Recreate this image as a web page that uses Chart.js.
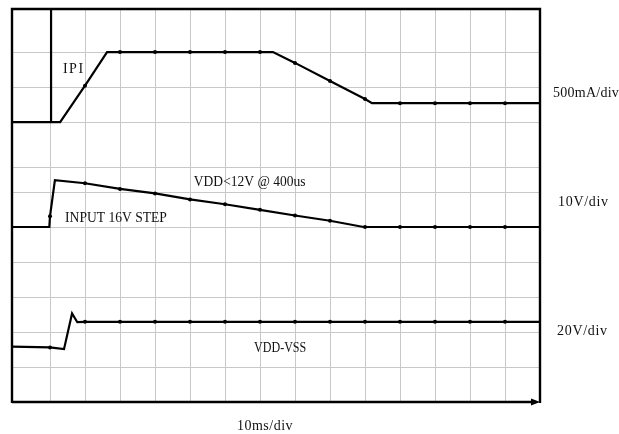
<!DOCTYPE html>
<html>
<head>
<meta charset="utf-8">
<script src="https://cdn.jsdelivr.net/npm/chart.js@4/dist/chart.umd.min.js"></script>
<style>
html,body{margin:0;padding:0;background:#fff;}
#c{display:block;}
</style>
</head>
<body>
<canvas id="c" width="619" height="434"></canvas>
<script>
// Values in screen divisions (x: 10ms/div, y: divisions above bottom edge)
const ipiX = [-1.086, 0.03, 0.03, 0.03, 0.29, 1, 1.63, 2, 3, 4, 5, 6, 6.37, 7, 8, 9, 9.2, 10, 11, 12, 13, 14];
const ipiY = [8, 8, 11.23, 8, 8, 9.04, 10, 10, 10, 10, 10, 10, 10, 9.69, 9.17, 8.66, 8.54, 8.54, 8.54, 8.54, 8.54, 8.54];

const vddX = [-1.086, -0.02, 0, 0.14, 1, 2, 3, 4, 5, 6, 7, 8, 8.96, 9, 10, 11, 12, 13, 14];
const vddY = [5, 5, 5.31, 6.34, 6.25, 6.09, 5.96, 5.79, 5.65, 5.49, 5.33, 5.18, 5, 5, 5, 5, 5, 5, 5];

const vssX = [-1.086, 0, 0.4, 0.63, 0.78, 1, 2, 3, 4, 5, 6, 7, 8, 9, 10, 11, 12, 13, 14];
const vssY = [1.58, 1.56, 1.51, 2.53, 2.28, 2.29, 2.29, 2.29, 2.29, 2.29, 2.29, 2.29, 2.29, 2.29, 2.29, 2.29, 2.29, 2.29, 2.29];

const xGrid = [0, 1, 2, 3, 4, 5, 6, 7, 8, 9, 10, 11, 12, 13];
const yGrid = [1, 2, 3, 4, 5, 6, 6.71, 8, 9, 10];

const xMin = -1.086, xMax = 14, yMin = 0, yMax = 11.23;

const labelsIn = [
  {text: 'IPI', x: 0.37, y: 9.5, ls: 1.5, sx: 1},
  {text: 'VDD<12V @ 400us', x: 4.11, y: 6.27, ls: 0, sx: 0.965},
  {text: 'INPUT 16V STEP', x: 0.43, y: 5.26, ls: 0, sx: 0.97},
  {text: 'VDD-VSS', x: 5.83, y: 1.54, ls: 0, sx: 0.86}
];
const labelsRight = [
  {text: '500mA/div', y: 8.83, dx: 13, ls: 0.25},
  {text: '10V/div', y: 5.71, dx: 18, ls: 0.7},
  {text: '20V/div', y: 2.03, dx: 17, ls: 0.7}
];
const xAxisLabel = '10ms/div';

function pts(xs, ys){ return xs.map((x,i)=>({x:x, y:ys[i]})); }

const dotRadius = ctx => {
  const r = ctx.raw;
  return (r && Math.abs(r.x - Math.round(r.x)) < 1e-6 && r.x > xMin && r.x < xMax) ? 2 : 0;
};

function ds(data){
  return {
    data: data,
    showLine: true,
    borderColor: '#000',
    backgroundColor: '#000',
    borderWidth: 2.2,
    pointRadius: dotRadius,
    pointHoverRadius: dotRadius,
    pointBorderWidth: 0,
    pointBackgroundColor: '#000',
    tension: 0
  };
}

const frame = {
  id: 'frame',
  afterDatasetsDraw(chart){
    const {ctx, chartArea: a, scales} = chart;
    ctx.save();
    ctx.strokeStyle = '#000';
    ctx.lineWidth = 2.4;
    ctx.lineCap = 'butt';
    ctx.beginPath();
    ctx.moveTo(a.left, a.bottom + 1);
    ctx.lineTo(a.left, a.top);
    ctx.lineTo(a.right, a.top);
    ctx.lineTo(a.right, a.bottom + 1);
    ctx.moveTo(a.left, a.bottom);
    ctx.lineTo(a.right - 4, a.bottom);
    ctx.stroke();
    // arrow head
    ctx.fillStyle = '#000';
    ctx.beginPath();
    ctx.moveTo(a.right, a.bottom);
    ctx.lineTo(a.right - 9, a.bottom - 3.5);
    ctx.lineTo(a.right - 9, a.bottom + 3.5);
    ctx.closePath();
    ctx.fill();

    ctx.font = '14px "Liberation Serif", "Times New Roman", serif';
    ctx.fillStyle = '#111';
    ctx.textBaseline = 'middle';
    ctx.textAlign = 'left';
    const xs = scales.x, ys = scales.y;
    labelsIn.forEach(l => {
      ctx.save();
      ctx.letterSpacing = l.ls + 'px';
      ctx.translate(xs.getPixelForValue(l.x), ys.getPixelForValue(l.y));
      ctx.scale(l.sx, 1);
      ctx.fillText(l.text, 0, 0);
      ctx.restore();
    });
    labelsRight.forEach(l => {
      ctx.letterSpacing = l.ls + 'px';
      ctx.fillText(l.text, a.right + l.dx, ys.getPixelForValue(l.y));
    });
    ctx.letterSpacing = '0.5px';
    ctx.fillText(xAxisLabel, xs.getPixelForValue(5.34), a.bottom + 24);
    ctx.restore();
  }
};

new Chart(document.getElementById('c'), {
  type: 'scatter',
  data: {
    datasets: [ds(pts(ipiX, ipiY)), ds(pts(vddX, vddY)), ds(pts(vssX, vssY))]
  },
  options: {
    responsive: false,
    animation: false,
    layout: {padding: {left: 12, right: 79, top: 9, bottom: 32}},
    plugins: {legend: {display: false}, tooltip: {enabled: false}},
    scales: {
      x: {
        type: 'linear', min: xMin, max: xMax,
        afterBuildTicks: s => { s.ticks = xGrid.map(v => ({value: v})); },
        ticks: {display: false},
        grid: {color: '#c8c8c8', lineWidth: 1, drawTicks: false},
        border: {display: false}
      },
      y: {
        type: 'linear', min: yMin, max: yMax,
        afterBuildTicks: s => { s.ticks = yGrid.map(v => ({value: v})); },
        ticks: {display: false},
        grid: {color: '#c8c8c8', lineWidth: 1, drawTicks: false},
        border: {display: false}
      }
    }
  },
  plugins: [frame]
});
</script>
</body>
</html>
